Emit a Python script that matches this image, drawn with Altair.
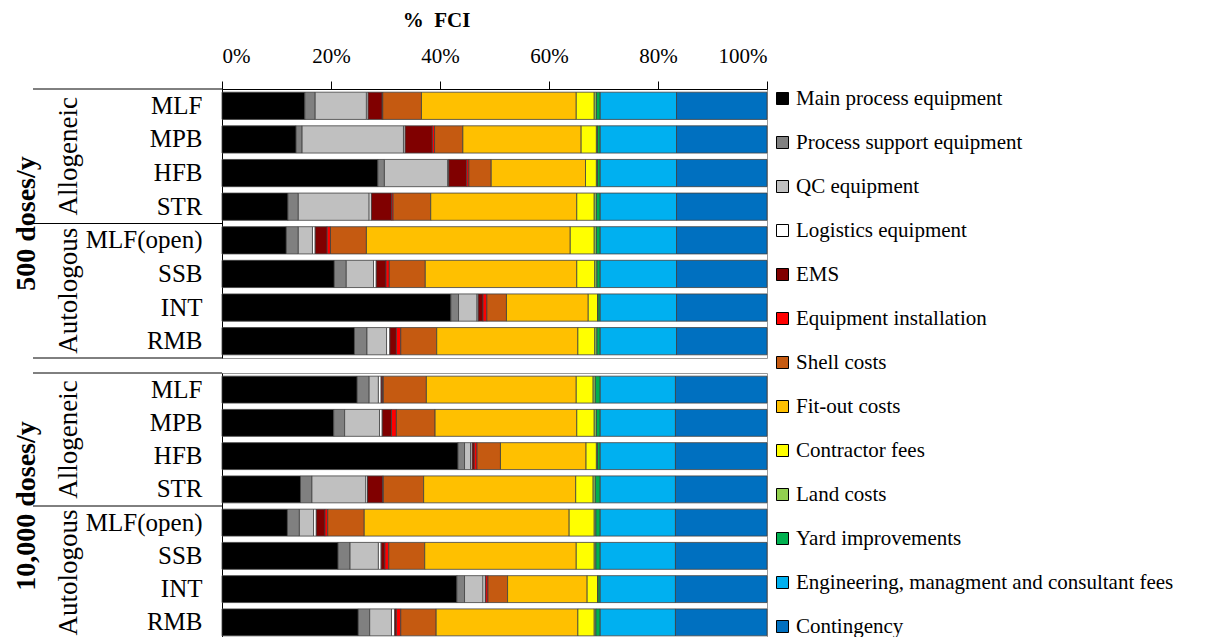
import altair as alt
import pandas as pd

# ---------------- data ----------------
rows = ["MLF", "MPB", "HFB", "STR", "MLF(open)", "SSB", "INT", "RMB"]
types = ["Allogeneic", "Autologous"]
scales = ["500 doses/y", "10,000 doses/y"]

categories = [
    "Main process equipment", "Process support equipment", "QC equipment",
    "Logistics equipment", "EMS", "Equipment installation", "Shell costs",
    "Fit-out costs", "Contractor fees", "Land costs", "Yard improvements",
    "Engineering, managment and consultant fees", "Contingency",
]
colors = ["#000000", "#808080", "#c0c0c0", "#ffffff", "#800000", "#ff0000",
          "#c55a11", "#ffc000", "#ffff00", "#92d050", "#00b050", "#00b0f0", "#0070c0"]

# 16 values each: 8 rows for 500 doses/y, then 8 rows for 10,000 doses/y (% of FCI)
main_process = [15.2, 13.6, 28.6, 12.1, 11.8, 20.6, 42.0, 24.3,
                24.8, 20.5, 43.3, 14.4, 12.0, 21.3, 43.1, 25.0]
process_support = [1.9, 1.1, 1.2, 1.9, 2.2, 2.2, 1.4, 2.3,
                   2.2, 2.0, 1.2, 2.1, 2.2, 2.2, 1.4, 2.1]
qc_equipment = [9.4, 18.6, 11.6, 13.0, 2.6, 5.0, 3.4, 3.6,
                1.7, 6.4, 1.1, 9.9, 2.6, 5.2, 3.4, 4.0]
logistics = [0.3, 0.3, 0.2, 0.4, 0.5, 0.5, 0.2, 0.6,
             0.5, 0.5, 0.3, 0.3, 0.5, 0.5, 0.4, 0.6]
ems = [2.6, 5.0, 3.3, 3.7, 2.2, 1.8, 0.9, 1.2,
       0.3, 1.7, 0.4, 2.8, 1.6, 0.7, 0.1, 0.3]
equip_install = [0.1, 0.4, 0.4, 0.3, 0.6, 0.6, 0.7, 0.8,
                 0.1, 0.9, 0.5, 0.1, 0.5, 0.7, 0.4, 0.8]
shell = [7.1, 5.2, 4.1, 6.9, 6.6, 6.6, 3.6, 6.6,
         7.9, 7.1, 4.3, 7.4, 6.7, 6.6, 3.6, 6.5]
fit_out = [28.4, 21.7, 17.3, 26.8, 37.4, 27.8, 15.0, 25.9,
           27.5, 26.0, 15.7, 27.9, 37.6, 27.8, 14.6, 26.0]
contractor = [3.3, 2.8, 2.0, 3.2, 4.4, 3.3, 1.7, 3.1,
              3.1, 3.2, 1.9, 3.2, 4.6, 3.3, 1.9, 3.0]
land = [0.4, 0.2, 0.2, 0.4, 0.4, 0.4, 0.1, 0.4,
        0.4, 0.4, 0.2, 0.4, 0.3, 0.3, 0.1, 0.3]
yard = [0.7, 0.5, 0.5, 0.7, 0.7, 0.6, 0.4, 0.6,
        0.9, 0.7, 0.5, 0.9, 0.8, 0.8, 0.4, 0.8]
engineering = [14.0, 14.0, 14.0, 14.0, 14.0, 14.0, 14.0, 14.0,
               13.8, 13.8, 13.8, 13.8, 13.8, 13.8, 13.8, 13.8]
contingency = [16.6, 16.6, 16.6, 16.6, 16.6, 16.6, 16.6, 16.6,
               16.8, 16.8, 16.8, 16.8, 16.8, 16.8, 16.8, 16.8]

series = [main_process, process_support, qc_equipment, logistics, ems,
          equip_install, shell, fit_out, contractor, land, yard,
          engineering, contingency]

records = []
for s_i, s_name in enumerate(scales):
    for r_i, r_name in enumerate(rows):
        for c_i, c_name in enumerate(categories):
            records.append({
                "scale": s_name, "row": r_name, "category": c_name,
                "cat_idx": c_i, "value": series[c_i][s_i * 8 + r_i],
            })
df = pd.DataFrame(records)

FONT = "Liberation Serif"
W, H1, H2 = 545, 269, 266


def panel(s_i, height, top):
    d = df[df["scale"] == scales[s_i]]
    if top:
        xaxis = alt.Axis(orient="top", format="%", values=[0, 0.2, 0.4, 0.6, 0.8, 1.0],
                         labelFont=FONT, labelFontSize=21, labelColor="#000",
                         tickSize=8, tickColor="#000", labelPadding=15,
                         domainColor="#000", grid=False,
                         title="%\u00a0\u00a0FCI", titleFont=FONT, titleFontSize=21,
                         titleFontWeight="bold", titleColor="#000",
                         titleX=214, titleY=-69, titleAlign="center",
                         titleBaseline="middle")
    else:
        xaxis = None

    bars = alt.Chart(d).mark_bar(stroke="#404040", strokeWidth=0.8).encode(
        x=alt.X("value:Q", stack="normalize", scale=alt.Scale(domain=[0, 1]), axis=xaxis),
        y=alt.Y("row:N", sort=rows,
                scale=alt.Scale(paddingInner=0.19, paddingOuter=0.095),
                axis=alt.Axis(title=None, ticks=False, labelFont=FONT, labelFontSize=25,
                              labelColor="#000", labelPadding=20, domainColor="#000")),
        color=alt.Color("category:N", sort=categories,
                        scale=alt.Scale(domain=categories, range=colors),
                        legend=alt.Legend(title=None)),
        order=alt.Order("cat_idx:Q"),
    )

    pos_scale = alt.Scale(domain=[0, 8], reverse=True)
    lines_df = pd.DataFrame({"pos": [0, 4, 8]})
    rules = alt.Chart(lines_df).mark_rule(color="#000", strokeWidth=1).encode(
        y=alt.Y("pos:Q", scale=pos_scale, axis=None),
        x=alt.value(-189), x2=alt.value(0),
    )
    type_df = pd.DataFrame({"pos": [2, 6], "label": types})
    type_text = alt.Chart(type_df).mark_text(
        angle=270, font=FONT, fontSize=27, color="#000", baseline="middle", align="center"
    ).encode(
        y=alt.Y("pos:Q", scale=pos_scale, axis=None),
        x=alt.value(-153), text="label:N",
    )
    scale_df = pd.DataFrame({"pos": [4], "label": [scales[s_i]]})
    scale_text = alt.Chart(scale_df).mark_text(
        angle=270, font=FONT, fontSize=28, fontWeight="bold", color="#000",
        baseline="middle", align="center"
    ).encode(
        y=alt.Y("pos:Q", scale=pos_scale, axis=None),
        x=alt.value(-195), text="label:N",
    )
    return alt.layer(bars, rules, type_text, scale_text).resolve_scale(
        y="independent"
    ).properties(width=W, height=height)


chart = alt.vconcat(
    panel(0, H1, True), panel(1, H2, False), spacing=13
).properties(
    padding={"left": 4, "top": 0, "right": 0, "bottom": 0}
).configure_view(
    stroke="#999999"
).configure_legend(
    orient="none", legendX=550, legendY=-1, title=None,
    labelFont=FONT, labelFontSize=21, labelColor="#000", labelLimit=600,
    symbolType="square", symbolSize=144, symbolStrokeColor="#000",
    symbolStrokeWidth=1, rowPadding=22, labelOffset=3,
)

chart.save("out.html", embed_options={"renderer": "svg", "actions": False})
